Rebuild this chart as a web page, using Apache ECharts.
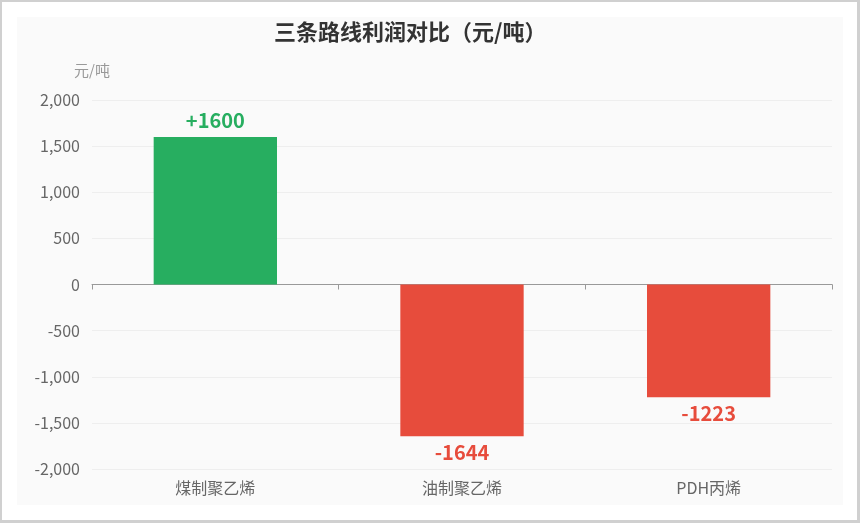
<!DOCTYPE html>
<html>
<head>
<meta charset="utf-8">
<script src="https://cdn.jsdelivr.net/npm/echarts@6/dist/echarts.min.js"></script>
<style>
  html, body { margin: 0; padding: 0; background: #fff; }
  #frame {
    width: 860px; height: 523px; box-sizing: border-box;
    border: 2px solid #d0d0d0; border-right-width: 3px; border-bottom-width: 3px;
    background: #fff; position: relative;
  }
  #chart {
    position: absolute; left: 15px; top: 15px;
    width: 826px; height: 488px; background: #fafafa;
  }
</style>
</head>
<body>
<div id="frame"><div id="chart"></div></div>
<script>
// 数据
var categories = ['煤制聚乙烯', '油制聚乙烯', 'PDH丙烯'];
var profits = [1600, -1644, -1223];
var yTicks = { min: -2000, max: 2000, interval: 500 };

var GREEN = '#27ae60';
var RED = '#e74c3c';
var FONT = '"Noto Sans CJK SC", "Noto Sans", sans-serif';

var barData = [];
for (var i = 0; i < profits.length; i++) {
  var c = profits[i] >= 0 ? GREEN : RED;
  barData.push({
    value: profits[i],
    itemStyle: { color: c },
    label: {
      position: profits[i] >= 0 ? 'top' : 'bottom',
      color: c
    }
  });
}

var option = {
  textStyle: { fontFamily: FONT },
  title: {
    text: '三条路线利润对比（元/吨）',
    left: 252,
    top: -1,
    textStyle: { fontSize: 22, fontWeight: 'bold', color: '#333', fontFamily: FONT }
  },
  grid: { left: 75, right: 11, top: 83, bottom: 36, containLabel: false },
  xAxis: [
    {
      type: 'category',
      data: categories,
      axisLine: { onZero: true, lineStyle: { color: '#999' } },
      axisTick: { show: true, lineStyle: { color: '#999' } },
      axisLabel: { show: false }
    },
    {
      type: 'category',
      data: categories,
      position: 'bottom',
      axisLine: { show: false },
      axisTick: { show: false },
      axisLabel: { color: '#666', fontSize: 16, margin: 11, fontFamily: FONT }
    }
  ],
  yAxis: {
    type: 'value',
    name: '元/吨',
    nameGap: 22,
    nameTextStyle: { color: '#999', fontSize: 15, align: 'center' },
    min: yTicks.min,
    max: yTicks.max,
    interval: yTicks.interval,
    axisLine: { show: false },
    axisTick: { show: false },
    axisLabel: { color: '#666', fontSize: 16, margin: 12 },
    splitLine: { lineStyle: { color: '#eee' } }
  },
  series: [{
    type: 'bar',
    xAxisIndex: 0,
    barWidth: '50%',
    data: barData,
    label: {
      show: true,
      fontSize: 20,
      fontWeight: 'bold',
      distance: 6,
      formatter: function (p) { return p.value > 0 ? '+' + p.value : '' + p.value; }
    }
  }]
};

var myChart = echarts.init(document.getElementById('chart'));
myChart.setOption(option);
</script>
</body>
</html>
